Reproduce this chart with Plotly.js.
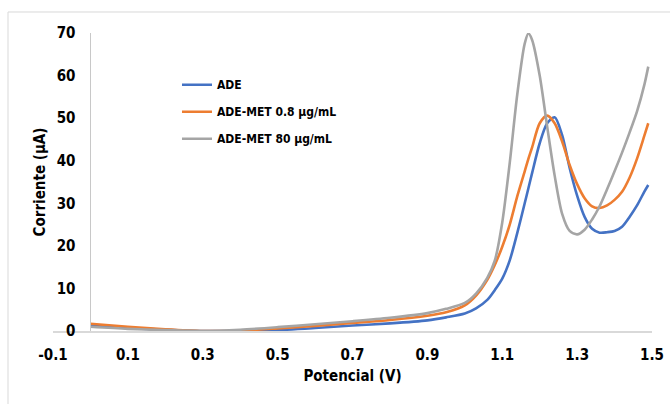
<!DOCTYPE html>
<html>
<head>
<meta charset="utf-8">
<script src="https://cdn.plot.ly/plotly-3.0.1.min.js"></script>
<style>html,body{margin:0;padding:0;background:#fff;}#chart{width:670px;height:404px;}</style>
</head>
<body>
<div id="chart"></div>
<script>
// Potential (V)
const potencial = [0, 0.1, 0.2, 0.3, 0.4, 0.5, 0.6, 0.7, 0.8, 0.9, 0.95, 1.0, 1.03, 1.06, 1.08, 1.10, 1.12, 1.14, 1.16, 1.17, 1.18, 1.20, 1.22, 1.24, 1.26, 1.28, 1.30, 1.32, 1.34, 1.36, 1.38, 1.40, 1.42, 1.44, 1.46, 1.48, 1.49];
// Current (µA)
const ade = [1.2, 0.7, 0.3, 0.0, 0.0, 0.2, 0.7, 1.3, 1.8, 2.5, 3.2, 4.1, 5.3, 7.3, 9.6, 12.3, 16.6, 23.0, 30.0, 33.6, 37.2, 44.1, 48.8, 50.2, 46.0, 38.3, 31.8, 26.8, 24.0, 23.1, 23.2, 23.5, 24.5, 26.8, 29.5, 32.8, 34.3];
const adeMet08 = [1.7, 1.0, 0.4, 0.0, 0.1, 0.6, 1.2, 1.9, 2.6, 3.6, 4.4, 6.0, 8.3, 12.0, 15.5, 19.8, 25.0, 31.6, 37.5, 40.5, 43.2, 48.8, 50.6, 48.8, 44.5, 39.0, 34.5, 31.2, 29.3, 28.9, 29.5, 30.8, 32.7, 36.0, 40.5, 46.0, 48.8];
const adeMet80 = [1.0, 0.5, 0.2, 0.0, 0.3, 0.9, 1.6, 2.3, 3.1, 4.2, 5.2, 6.6, 8.8, 12.5, 16.5, 25.5, 39.5, 55.5, 67.5, 69.9, 68.3, 60.0, 48.0, 36.5, 27.5, 23.5, 22.7, 23.8, 26.2, 29.3, 33.3, 37.5, 41.9, 46.6, 51.6, 58.0, 62.1];
const seriesNames = ['ADE', 'ADE-MET 0.8 µg/mL', 'ADE-MET 80 µg/mL'];
const xTickVals = [-0.1, 0.1, 0.3, 0.5, 0.7, 0.9, 1.1, 1.3, 1.5];
const yTickVals = [0, 10, 20, 30, 40, 50, 60, 70];

const FONT = '"DejaVu Sans Condensed", "Liberation Sans Narrow", Arial, sans-serif';
const colors = ['#4472C4', '#ED7D31', '#A5A5A5'];
const ys = [ade, adeMet08, adeMet80];

const traces = ys.map((y, i) => ({
  x: potencial, y: y, type: 'scatter', mode: 'lines',
  name: '<b>' + seriesNames[i] + '</b>',
  legendgroup: 'g' + i,
  line: {color: colors[i], width: 2.6, shape: 'spline', smoothing: 0.8}
}));

const layout = {
  width: 670, height: 404,
  margin: {l: 53, r: 18, t: 33, b: 73},
  paper_bgcolor: '#fff', plot_bgcolor: '#fff',
  font: {family: FONT, size: 14, color: '#000'},
  showlegend: true,
  legend: {x: 0.207, y: 0.875, xanchor: 'left', yanchor: 'top', bgcolor: 'rgba(0,0,0,0)',
           font: {family: FONT, size: 12, color: '#000'}, tracegroupgap: 8},
  xaxis: {
    range: [-0.1, 1.5], tickvals: xTickVals, ticktext: xTickVals.map(v => '<b>' + v + '</b>'),
    showgrid: false, zeroline: false, showline: true, linecolor: '#D9D9D9', linewidth: 1.5,
    ticks: 'outside', ticklen: 9, tickcolor: 'rgba(0,0,0,0)',
    tickfont: {family: FONT, size: 15, color: '#000'},
    title: {text: '<b>Potencial (V)</b>', font: {family: FONT, size: 15, color: '#000'}, standoff: 8}
  },
  yaxis: {
    range: [0, 70], tickvals: yTickVals, ticktext: yTickVals.map(v => '<b>' + v + '</b>'),
    anchor: 'free', position: 0.0625,
    showgrid: false, zeroline: false, showline: true, linecolor: '#C8C8C8', linewidth: 1,
    ticks: 'outside', ticklen: 12, tickcolor: 'rgba(0,0,0,0)',
    tickfont: {family: FONT, size: 15, color: '#000'},
    title: {text: '<b>Corriente (µA)</b>', font: {family: FONT, size: 15, color: '#000'}, standoff: 6}
  },
  shapes: [
    {type: 'rect', xref: 'paper', yref: 'paper', x0: -0.0751, x1: 1.2, y0: -0.4, y1: 1.0705,
     line: {color: '#D9D9D9', width: 1}, fillcolor: 'rgba(0,0,0,0)', layer: 'below'}
  ]
};

Plotly.newPlot('chart', traces, layout, {displayModeBar: false, staticPlot: true});
</script>
</body>
</html>
